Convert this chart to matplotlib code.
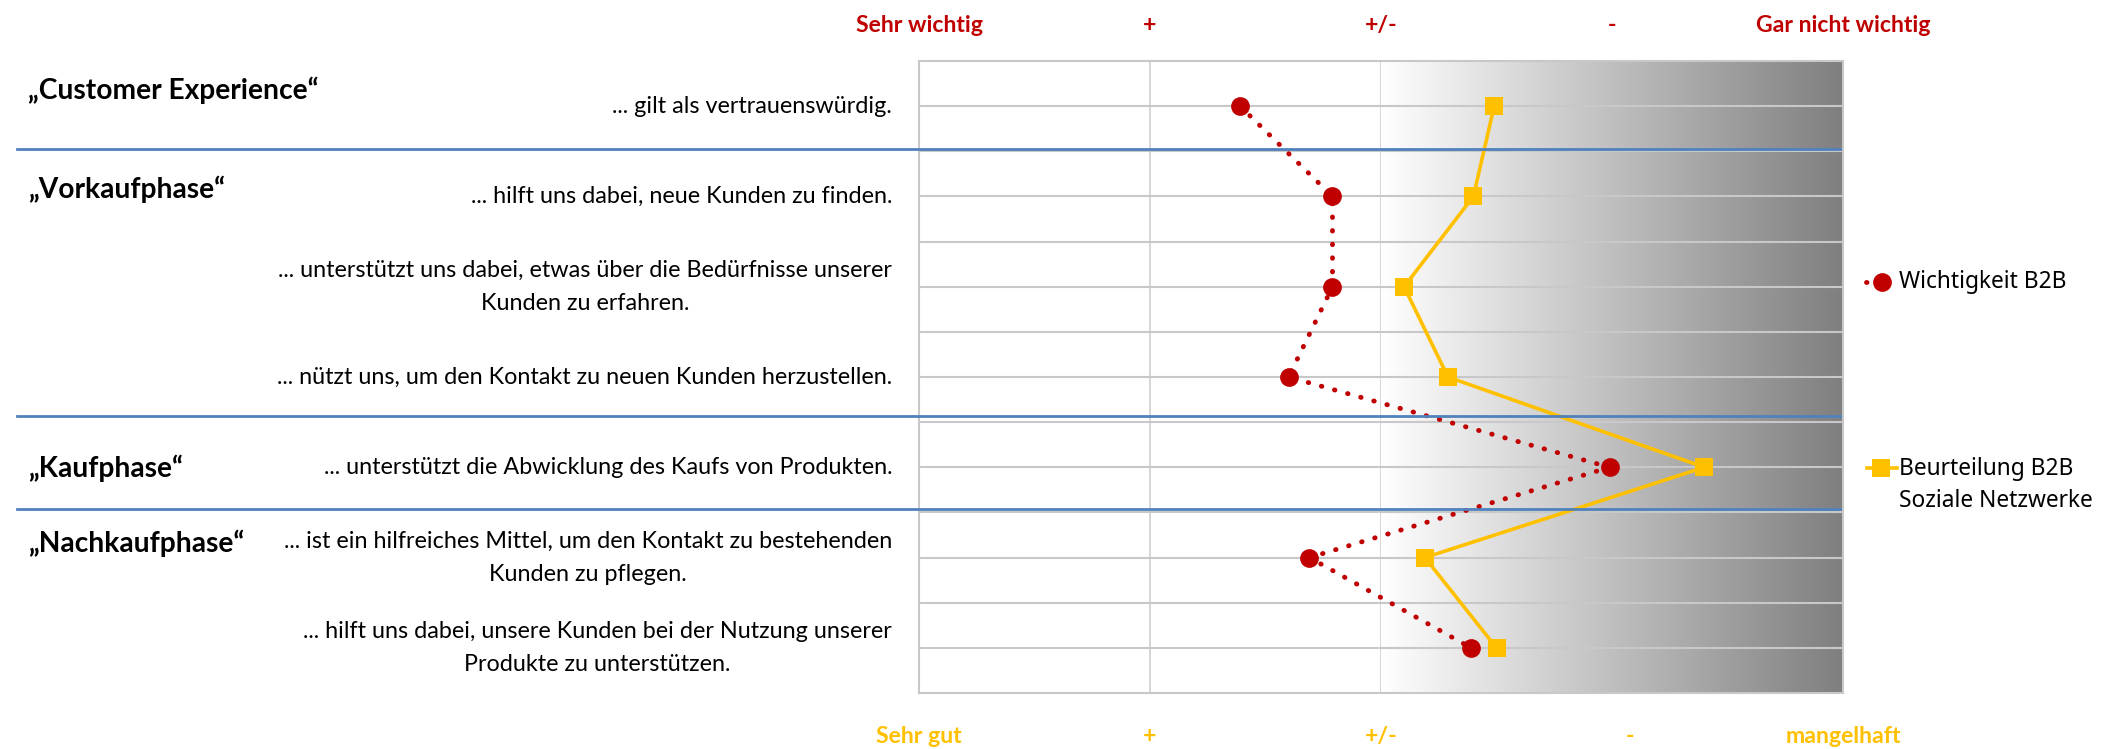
import numpy as np
import matplotlib
matplotlib.use("Agg")
import matplotlib.pyplot as plt
from matplotlib.lines import Line2D
from matplotlib.colors import LinearSegmentedColormap

# statements, one per row (top to bottom)
statements = [
    "... gilt als vertrauenswürdig.",
    "... hilft uns dabei, neue Kunden zu finden.",
    "... unterstützt uns dabei, etwas über die Bedürfnisse unserer\nKunden zu erfahren.",
    "... nützt uns, um den Kontakt zu neuen Kunden herzustellen.",
    "... unterstützt die Abwicklung des Kaufs von Produkten.",
    "... ist ein hilfreiches Mittel, um den Kontakt zu bestehenden\nKunden zu pflegen.",
    "... hilft uns dabei, unsere Kunden bei der Nutzung unserer\nProdukte zu unterstützen.",
]
groups = ["„Customer Experience“", "„Vorkaufphase“", "„Kaufphase“", "„Nachkaufphase“"]

# mean scores (1 = best, 5 = worst)
wichtigkeit = [2.39, 2.79, 2.79, 2.60, 3.99, 2.69, 3.39]
beurteilung = [3.49, 3.40, 3.10, 3.29, 4.40, 3.19, 3.50]

scale_top = ["Sehr wichtig", "+", "+/-", "-", "Gar nicht wichtig"]
scale_bottom = ["Sehr gut", "+", "+/-", "-", "mangelhaft"]

RED = "#C00000"
YELLOW = "#FFC000"
BLUE = "#4F81BD"
FONT = ["Lato", "DejaVu Sans"]
LEGEND_FONT = ["Noto Sans", "DejaVu Sans"]

W, H = 2109, 749
fig = plt.figure(figsize=(W / 100, H / 100), dpi=100)
ax = fig.add_axes([919 / W, 1 - 693 / H, 924 / W, 632 / H])
renderer = fig.canvas.get_renderer()


def fit_size(sample, width_px, **kw):
    # font size that makes `sample` span width_px pixels
    t = fig.text(0, 0, sample, fontsize=20, **kw)
    w = t.get_window_extent(renderer).width
    t.remove()
    return 20 * width_px / w


title_fs = fit_size(groups[0], 290, family=FONT, fontweight="bold")
row_fs = fit_size(statements[0], 280, family=FONT)
scale_fs = fit_size(scale_top[0], 127, family=FONT, fontweight="bold")
legend_fs = fit_size("Wichtigkeit B2B", 168, family=LEGEND_FONT)

rows = np.arange(1, 2 * len(statements), 2)
ax.set_xlim(1, 5)
ax.set_ylim(14, 0)

# grey fade on the right half
cmap = LinearSegmentedColormap.from_list("fade", ["#FFFFFF", "#7F7F7F"])
ax.imshow(np.linspace(0, 1, 256).reshape(1, -1), cmap=cmap, aspect="auto",
          extent=[3, 5, 14, 0], zorder=1)

for x in [2, 3]:
    ax.axvline(x, color="#D0D0D0", lw=1.2, zorder=0.5)
for y in range(1, 14):
    ax.axhline(y, color="#C8C8C8", lw=1.5, zorder=2)
for s in ax.spines.values():
    s.set_color("#C8C8C8")
    s.set_linewidth(1.5)
ax.set_xticks([])
ax.set_yticks([])

red_style = dict(color=RED, lw=3.5, ls=(0, (0.1, 2.7)), dash_capstyle="round",
                 marker="o", ms=13.5, markeredgewidth=0)
yel_style = dict(color=YELLOW, lw=2.6, marker="s", ms=13, markeredgewidth=0)

ax.plot(wichtigkeit, rows, zorder=4, clip_on=False, **red_style)
ax.plot(beurteilung, rows, zorder=3, clip_on=False, **yel_style)

# scale labels above and below
xt = ax.get_xaxis_transform()
for x, lab in zip([1, 2, 3, 4, 5], scale_top):
    ax.text(x, 1 + 29 / 632, lab, transform=xt, ha="center", va="baseline",
            color=RED, fontsize=scale_fs, fontweight="bold", family=FONT)
for x, lab in zip([1, 2, 3, 4.08, 5], scale_bottom):
    ax.text(x, -50 / 632, lab, transform=xt, ha="center", va="baseline",
            color=YELLOW, fontsize=scale_fs, fontweight="bold", family=FONT)

# statement labels
yt = ax.get_yaxis_transform()
for y, lab in zip(rows, statements):
    ax.text(-27 / 924, y, lab, transform=yt, ha="right", va="center",
            multialignment="center", fontsize=row_fs, family=FONT,
            linespacing=1.7)

# phase titles and separators
for y, lab in zip([0.84, 3.03, 9.22, 10.88], groups):
    ax.text(-891 / 924, y, lab, transform=yt, ha="left", va="baseline",
            fontsize=title_fs, fontweight="bold", family=FONT)
for y in [1.95, 7.86, 9.92]:
    ax.plot([-902 / 924, 921 / 924], [y, y], transform=yt, color=BLUE,
            lw=2, clip_on=False, zorder=5)

# legend
fig.add_artist(Line2D([1866 / W, 1893 / W], [1 - 282 / H] * 2, **{**red_style, "marker": None}))
fig.add_artist(Line2D([1882 / W], [1 - 282 / H], **red_style))
fig.add_artist(Line2D([1867 / W, 1897 / W], [1 - 468 / H] * 2, **{**yel_style, "marker": None}))
fig.add_artist(Line2D([1881 / W], [1 - 468 / H], **yel_style))
fig.text(1899 / W, 1 - 282 / H, "Wichtigkeit B2B", ha="left", va="center",
         fontsize=legend_fs, family=LEGEND_FONT)
fig.text(1899 / W, 1 - 485 / H, "Beurteilung B2B\nSoziale Netzwerke", ha="left",
         va="center", fontsize=legend_fs, family=LEGEND_FONT, linespacing=1.45)

fig.savefig("out.png", dpi=100)
